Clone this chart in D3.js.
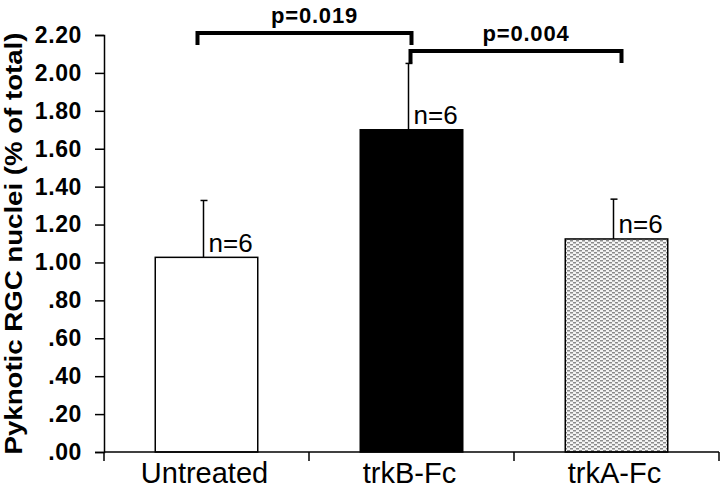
<!DOCTYPE html>
<html>
<head>
<meta charset="utf-8">
<script src="https://cdn.jsdelivr.net/npm/d3@7"></script>
<style>
  body { margin: 0; background: #fff; }
  svg { display: block; }
</style>
</head>
<body>
<svg width="720" height="487"></svg>
<script>
// data
var categories = ["Untreated", "trkB-Fc", "trkA-Fc"];
var means = [1.027, 1.70, 1.124];
var errUp = [0.30, 0.35, 0.21];
var nLabels = ["n=6", "n=6", "n=6"];
var yTicks = [0, 0.2, 0.4, 0.6, 0.8, 1.0, 1.2, 1.4, 1.6, 1.8, 2.0, 2.2];
var compareFrom = ["Untreated", "trkB-Fc"];
var compareTo = ["trkB-Fc", "trkA-Fc"];
var pLabels = ["p=0.019", "p=0.004"];
var bracketLevel = [2.21, 2.116];

var svg = d3.select("svg");
const plotLeft = 104, plotRight = 719, plotTop = 35, plotBottom = 452;
const font = "Liberation Sans, Arial, sans-serif";

var x = d3.scaleBand().domain(categories).range([plotLeft, plotRight])
  .paddingInner(0.5).paddingOuter(0.25);
var y = d3.scaleLinear().domain([0, 2.2]).range([plotBottom, plotTop]);

// pattern for trkA-Fc
var defs = svg.append("defs");
var pat = defs.append("pattern").attr("id", "dots")
  .attr("patternUnits", "userSpaceOnUse").attr("width", 6).attr("height", 4);
pat.append("rect").attr("width", 6).attr("height", 4).attr("fill", "#f4f4f4");
pat.append("rect").attr("x", 0).attr("y", 0).attr("width", 3).attr("height", 1.5).attr("fill", "#8a8a8a");
pat.append("rect").attr("x", 3).attr("y", 2).attr("width", 3).attr("height", 1.5).attr("fill", "#8a8a8a");

var fills = ["#fff", "#000", "url(#dots)"];

// y axis
var yAxis = svg.append("g").attr("transform", "translate(" + plotLeft + ",0)")
  .call(d3.axisLeft(y).tickValues(yTicks).tickSize(9).tickPadding(13)
    .tickFormat(function (d) { return d3.format(".2f")(d).replace(/^0/, ""); }));
yAxis.select(".domain").attr("stroke", "#000").attr("stroke-width", 1.5);
yAxis.selectAll(".tick line").attr("stroke", "#000").attr("stroke-width", 1.5);
yAxis.selectAll("text")
  .attr("font-family", font)
  .attr("font-weight", "bold").attr("font-size", 23)
  .attr("letter-spacing", "0.6px").attr("fill", "#000");

// bars
svg.append("g").selectAll("rect").data(categories).join("rect")
  .attr("x", function (d) { return x(d); })
  .attr("y", function (d, i) { return y(means[i]); })
  .attr("width", x.bandwidth())
  .attr("height", function (d, i) { return y(0) - y(means[i]); })
  .attr("fill", function (d, i) { return fills[i]; })
  .attr("stroke", "#000").attr("stroke-width", 1.5);

// error bars (upper only)
var errX = function (d) { return x(d) + x.bandwidth() / 2 - 3; };
var eb = svg.append("g").attr("stroke", "#000").attr("stroke-width", 1.5);
eb.selectAll("line.v").data(categories).join("line").attr("class", "v")
  .attr("x1", errX).attr("x2", errX)
  .attr("y1", function (d, i) { return y(means[i]); })
  .attr("y2", function (d, i) { return y(means[i] + errUp[i]); });
eb.selectAll("line.c").data(categories).join("line").attr("class", "c")
  .attr("x1", function (d) { return errX(d) - 3; })
  .attr("x2", function (d) { return errX(d) + 4; })
  .attr("y1", function (d, i) { return y(means[i] + errUp[i]); })
  .attr("y2", function (d, i) { return y(means[i] + errUp[i]); });

// n labels
svg.append("g").selectAll("text").data(categories).join("text")
  .attr("x", function (d) { return errX(d) + 5; })
  .attr("y", function (d, i) { return y(means[i]) - 5.5; })
  .attr("font-family", font)
  .attr("font-size", 26).attr("fill", "#000")
  .text(function (d, i) { return nLabels[i]; });

// x axis
var xg = svg.append("g");
xg.append("line").attr("x1", plotLeft).attr("x2", plotRight)
  .attr("y1", plotBottom).attr("y2", plotBottom)
  .attr("stroke", "#000").attr("stroke-width", 1.5);
var bounds = d3.range(categories.length + 1).map(function (i) {
  return plotLeft + i * x.step();
});
xg.selectAll("line.tk").data(bounds).join("line").attr("class", "tk")
  .attr("x1", function (d) { return d; }).attr("x2", function (d) { return d; })
  .attr("y1", plotBottom).attr("y2", plotBottom + 9)
  .attr("stroke", "#000").attr("stroke-width", 1.5);
xg.selectAll("text").data(categories).join("text")
  .attr("x", function (d) { return x(d) + x.bandwidth() / 2 - 2; })
  .attr("y", plotBottom + 30.5)
  .attr("text-anchor", "middle")
  .attr("font-family", font)
  .attr("font-size", 29).attr("fill", "#000")
  .text(function (d) { return d; });

// y title
svg.append("text")
  .attr("transform", "translate(22," + (plotTop + plotBottom) / 2 + ") rotate(-90)")
  .attr("text-anchor", "middle")
  .attr("font-family", font)
  .attr("font-weight", "bold").attr("font-size", 24)
  .attr("textLength", 422).attr("lengthAdjust", "spacingAndGlyphs")
  .attr("fill", "#000")
  .text("Pyknotic RGC nuclei (% of total)");

// significance brackets
var bOff = [[-9, 0], [-1, 5]];
var br = svg.append("g");
pLabels.forEach(function (p, i) {
  var x1 = x(compareFrom[i]) + x.bandwidth() / 2 + bOff[i][0];
  var x2 = x(compareTo[i]) + x.bandwidth() / 2 + bOff[i][1];
  var yb = y(bracketLevel[i]);
  br.append("path")
    .attr("d", "M" + x1 + "," + (yb + 12) + "V" + yb + "H" + x2 + "V" + (yb + 12))
    .attr("fill", "none").attr("stroke", "#000").attr("stroke-width", 4)
    .attr("stroke-linejoin", "miter");
  br.append("text")
    .attr("x", (x1 + x2) / 2 + 10).attr("y", yb - 10)
    .attr("text-anchor", "middle")
    .attr("font-family", font)
    .attr("font-weight", "bold").attr("font-size", 22)
    .attr("letter-spacing", "0.8px").attr("fill", "#000")
    .text(p);
});
</script>
</body>
</html>
